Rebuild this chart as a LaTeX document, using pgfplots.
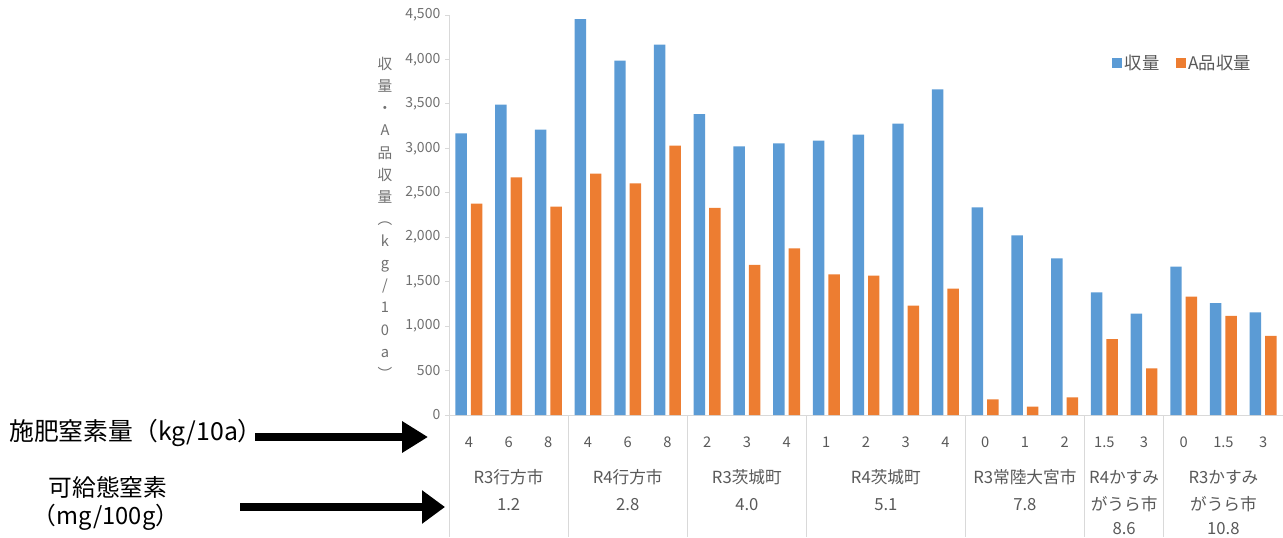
\documentclass[border=0pt]{standalone}
\usepackage{fontspec}
\setmainfont{Noto Sans CJK JP}
\usepackage{pgfplots}
\pgfplotsset{compat=1.18}
\usetikzlibrary{arrows.meta}
\definecolor{cblue}{HTML}{5B9BD5}
\definecolor{corange}{HTML}{ED7D31}
\definecolor{ltxt}{HTML}{595959}
\definecolor{tkt}{HTML}{707070}
\definecolor{lgrid}{HTML}{D9D9D9}

\begin{document}
\begin{tikzpicture}
\useasboundingbox (0,0) rectangle (962.25pt,402.75pt);
\begin{axis}[
  at={(336.75pt,91.5pt)}, anchor=south west,
  scale only axis, width=625.5pt, height=300pt,
  xmin=-0.5, xmax=20.5, ymin=0, ymax=4500,
  ytick={0,500,...,4500},
  xtick={0,...,20},
  xticklabels={4,6,8,4,6,8,2,3,4,1,2,3,4,0,1,2,1.5,3,0,1.5,3},
  axis x line*=bottom, axis y line*=left,
  axis line style={draw=lgrid, -},
  tick align=outside,
  major tick length=3pt,
  ytick style={draw=lgrid, line width=0.6pt},
  xtick style={draw=none},
  /pgf/number format/1000 sep={,},
  /pgf/number format/assume math mode=true,
  scaled y ticks=false,
  yticklabel style={font=\fontsize{10.5}{12}\selectfont, text=tkt},
  xticklabel style={font=\fontsize{11}{13}\selectfont, text=ltxt, anchor=base, yshift=-21pt},
  clip=false,
  legend columns=2,
  legend style={at={(0.795,0.88)}, anchor=west, draw=none, fill=none,
    inner sep=0pt, font=\fontsize{13}{14}\selectfont, text=ltxt,
    /tikz/every even column/.append style={column sep=10pt}},
]
\addplot[ybar, bar width=8.6pt, bar shift=-5.8pt, fill=cblue, draw=none,
  legend image code/.code={\fill[cblue] (0pt,-3.75pt) rectangle (7.5pt,3.75pt);}]
  coordinates {(0,3169) (1,3491) (2,3210) (3,4455) (4,3986) (5,4166)
   (6,3386) (7,3023) (8,3056) (9,3086) (10,3154) (11,3278) (12,3664)
   (13,2336) (14,2021) (15,1763) (16,1380) (17,1140) (18,1669) (19,1260) (20,1155)};
\addplot[ybar, bar width=8.6pt, bar shift=5.8pt, fill=corange, draw=none,
  legend image code/.code={\fill[corange] (0pt,-3.75pt) rectangle (7.5pt,3.75pt);}]
  coordinates {(0,2377) (1,2674) (2,2344) (3,2715) (4,2606) (5,3030)
   (6,2329) (7,1688) (8,1875) (9,1583) (10,1568) (11,1230) (12,1421)
   (13,176) (14,94) (15,199) (16,855) (17,525) (18,1331) (19,1114) (20,889)};
\legend{収量,A品収量}

% group separators
\draw[lgrid, line width=0.6pt] (axis cs:-0.5,0) -- ([yshift=-91.5pt]axis cs:-0.5,0);
\draw[lgrid, line width=0.6pt] (axis cs:2.5,0) -- ([yshift=-91.5pt]axis cs:2.5,0);
\draw[lgrid, line width=0.6pt] (axis cs:5.5,0) -- ([yshift=-91.5pt]axis cs:5.5,0);
\draw[lgrid, line width=0.6pt] (axis cs:8.5,0) -- ([yshift=-91.5pt]axis cs:8.5,0);
\draw[lgrid, line width=0.6pt] (axis cs:12.5,0) -- ([yshift=-91.5pt]axis cs:12.5,0);
\draw[lgrid, line width=0.6pt] (axis cs:15.5,0) -- ([yshift=-91.5pt]axis cs:15.5,0);
\draw[lgrid, line width=0.6pt] (axis cs:17.5,0) -- ([yshift=-91.5pt]axis cs:17.5,0);
\draw[lgrid, line width=0.6pt] (axis cs:20.5,0) -- ([yshift=-91.5pt]axis cs:20.5,0);
% group labels
\node[anchor=base, inner sep=0pt, text=ltxt, font=\fontsize{12.5}{14}\selectfont] at ([yshift=-51pt]axis cs:1,0) {R3行方市};
\node[anchor=base, inner sep=0pt, text=ltxt, font=\fontsize{12.5}{14}\selectfont] at ([yshift=-71.25pt]axis cs:1,0) {1.2};
\node[anchor=base, inner sep=0pt, text=ltxt, font=\fontsize{12.5}{14}\selectfont] at ([yshift=-51pt]axis cs:4,0) {R4行方市};
\node[anchor=base, inner sep=0pt, text=ltxt, font=\fontsize{12.5}{14}\selectfont] at ([yshift=-71.25pt]axis cs:4,0) {2.8};
\node[anchor=base, inner sep=0pt, text=ltxt, font=\fontsize{12.5}{14}\selectfont] at ([yshift=-51pt]axis cs:7,0) {R3茨城町};
\node[anchor=base, inner sep=0pt, text=ltxt, font=\fontsize{12.5}{14}\selectfont] at ([yshift=-71.25pt]axis cs:7,0) {4.0};
\node[anchor=base, inner sep=0pt, text=ltxt, font=\fontsize{12.5}{14}\selectfont] at ([yshift=-51pt]axis cs:10.5,0) {R4茨城町};
\node[anchor=base, inner sep=0pt, text=ltxt, font=\fontsize{12.5}{14}\selectfont] at ([yshift=-71.25pt]axis cs:10.5,0) {5.1};
\node[anchor=base, inner sep=0pt, text=ltxt, font=\fontsize{12.5}{14}\selectfont] at ([yshift=-51pt]axis cs:14,0) {R3常陸大宮市};
\node[anchor=base, inner sep=0pt, text=ltxt, font=\fontsize{12.5}{14}\selectfont] at ([yshift=-71.25pt]axis cs:14,0) {7.8};
\node[anchor=base, inner sep=0pt, text=ltxt, font=\fontsize{12.5}{14}\selectfont] at ([yshift=-51pt]axis cs:16.5,0) {R4かすみ};
\node[anchor=base, inner sep=0pt, text=ltxt, font=\fontsize{12.5}{14}\selectfont] at ([yshift=-71.25pt]axis cs:16.5,0) {がうら市};
\node[anchor=base, inner sep=0pt, text=ltxt, font=\fontsize{12.5}{14}\selectfont] at ([yshift=-89.5pt]axis cs:16.5,0) {8.6};
\node[anchor=base, inner sep=0pt, text=ltxt, font=\fontsize{12.5}{14}\selectfont] at ([yshift=-51pt]axis cs:19,0) {R3かすみ};
\node[anchor=base, inner sep=0pt, text=ltxt, font=\fontsize{12.5}{14}\selectfont] at ([yshift=-71.25pt]axis cs:19,0) {がうら市};
\node[anchor=base, inner sep=0pt, text=ltxt, font=\fontsize{12.5}{14}\selectfont] at ([yshift=-89.5pt]axis cs:19,0) {10.8};
\end{axis}

% vertical y label
\node[align=center, inner sep=0pt, text=tkt, font=\fontsize{11}{16.6}\selectfont]
  at (288.75pt,239pt) {収\\量\\・\\A\\品\\収\\量\\︵\\k\\g\\/\\1\\0\\a\\︶};

% left annotations
\node[anchor=west, inner sep=0pt, font=\fontsize{18.6}{20}\selectfont] at (6.75pt,78pt) {施肥窒素量（kg/10a）};
\draw[line width=6pt, -{Triangle[length=19.5pt,width=22.5pt]}] (191.25pt,75pt) -- (321pt,75pt);
\node[inner sep=0pt, font=\fontsize{17.8}{20}\selectfont] at (81pt,37.5pt) {可給態窒素};
\node[inner sep=0pt, font=\fontsize{17.8}{20}\selectfont] at (79.5pt,15pt) {（mg/100g）};
\draw[line width=6pt, -{Triangle[length=17.25pt,width=24pt]}] (180pt,22.5pt) -- (333.75pt,22.5pt);
\end{tikzpicture}
\end{document}
